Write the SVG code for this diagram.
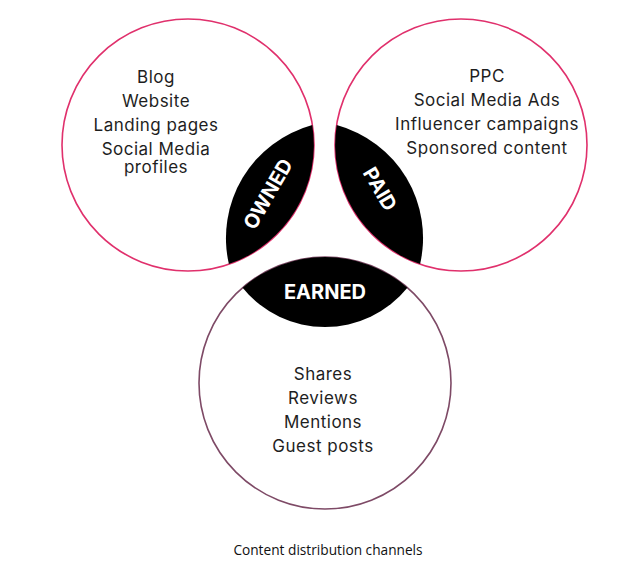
<svg xmlns="http://www.w3.org/2000/svg" width="635" height="564" viewBox="0 0 635 564">
<style>
.circ{fill:#fff;stroke-width:1.6}
.pink{stroke:#e0306c}
.mauve{stroke:#7e4a66}
.lens{fill:#000}
.item{font-family:Inter,"Noto Sans",sans-serif;font-size:17px;letter-spacing:0.5px;fill:#1e1e1e;text-anchor:middle}
.lab{font-family:Inter,"Noto Sans",sans-serif;font-weight:700;font-size:20px;fill:#fff;text-anchor:middle}
.cap{font-family:"Open Sans","Noto Sans",sans-serif;font-size:13.7px;fill:#111;text-anchor:middle}
</style>
<rect width="635" height="564" fill="#fff"/>
<g id="owned">
<circle class="circ pink" cx="188" cy="145" r="126"/>
<text class="item" x="156" y="83">Blog</text>
<text class="item" x="156" y="107">Website</text>
<text class="item" x="156" y="131">Landing pages</text>
<text class="item" x="156" y="155">Social Media</text>
<text class="item" x="156" y="173">profiles</text>
</g>
<g id="paid">
<circle class="circ pink" cx="461" cy="145" r="126"/>
<text class="item" x="487" y="82">PPC</text>
<text class="item" x="487" y="106">Social Media Ads</text>
<text class="item" x="487" y="130">Influencer campaigns</text>
<text class="item" x="487" y="154">Sponsored content</text>
</g>
<g id="earned">
<circle class="circ mauve" cx="325" cy="383" r="126"/>
<text class="item" x="323" y="380">Shares</text>
<text class="item" x="323" y="404">Reviews</text>
<text class="item" x="323" y="428">Mentions</text>
<text class="item" x="323" y="452">Guest posts</text>
</g>
<g id="owned-lens">
<path class="lens" d="M312.3 125.1 A126 126 0 0 1 228.9 264.1 A117 117 0 0 1 312.3 125.1 Z"/>
<text class="lab" transform="translate(268 194) rotate(-60)" y="7">OWNED</text>
</g>
<g id="paid-lens">
<path class="lens" d="M336.7 125.1 A126 126 0 0 0 420.1 264.1 A117 117 0 0 0 336.7 125.1 Z"/>
<text class="lab" transform="translate(380 189) rotate(60)" y="7">PAID</text>
</g>
<g id="earned-lens">
<path class="lens" d="M242.6 287.7 A126 126 0 0 1 407.4 287.7 A106 106 0 0 1 242.6 287.7 Z"/>
<text class="lab" x="325" y="298.5">EARNED</text>
</g>
<g id="connectors"/>
<text class="cap" x="328" y="555">Content distribution channels</text>
</svg>
